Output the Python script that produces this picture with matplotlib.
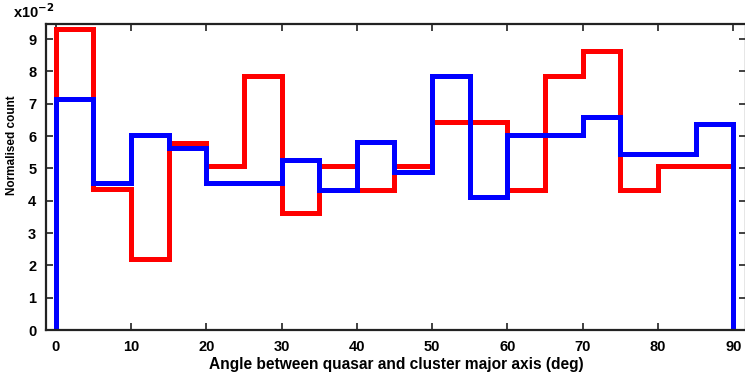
import numpy as np
import matplotlib.pyplot as plt
from matplotlib.ticker import FuncFormatter

# bin edges (deg) and normalised counts
edges = np.arange(0, 95, 5)
red_counts = [0.0932, 0.0436, 0.0220, 0.0578, 0.0506, 0.0786, 0.0361, 0.0506, 0.0433,
              0.0506, 0.0645, 0.0645, 0.0433, 0.0786, 0.0862, 0.0433, 0.0506, 0.0506]
blue_counts = [0.0715, 0.0454, 0.0604, 0.0562, 0.0454, 0.0454, 0.0526, 0.0433, 0.0583,
               0.0490, 0.0786, 0.0413, 0.0604, 0.0604, 0.0658, 0.0545, 0.0545, 0.0638]
xticks = [0, 10, 20, 30, 40, 50, 60, 70, 80, 90]
yticks = [0.0, 0.01, 0.02, 0.03, 0.04, 0.05, 0.06, 0.07, 0.08, 0.09]

plt.rcParams['font.family'] = ['Liberation Sans', 'DejaVu Sans']
plt.rcParams['font.weight'] = 'bold'

fig = plt.figure(figsize=(7.45, 3.83), dpi=100)
ax = fig.add_axes([46 / 745, 53 / 383, 700 / 745, 306 / 383])

ax.hist(edges[:-1], bins=edges, weights=red_counts, histtype='step',
        color='#ff0000', linewidth=3.6)
ax.hist(edges[:-1], bins=edges, weights=blue_counts, histtype='step',
        color='#0000ff', linewidth=3.6)

ax.set_xlim(-1.3, 91.7)
ax.set_ylim(0, 0.0947)
ax.set_xticks(xticks)
ax.set_yticks(yticks)
ax.yaxis.set_major_formatter(FuncFormatter(lambda v, p: '%d' % round(v * 100)))
ax.tick_params(direction='in', length=5, width=1.3, top=True, right=True,
               labelsize=10.5, color='#333333', pad=7)
for s in ax.spines.values():
    s.set_linewidth(1.6)
    s.set_color('#222222')

ax.set_xlabel('Angle between quasar and cluster major axis (deg)', fontsize=11.2,
              fontweight='bold', labelpad=2)
ax.set_ylabel('Normalised count', fontsize=8.5, fontweight='bold')
ax.yaxis.set_label_coords(-0.04, 0.605)
fig.text(13 / 745, 1 - 18 / 383, 'x10$^{\\mathbf{-2}}$', fontsize=10.5, fontweight='bold')

fig.savefig('out.png', dpi=100)
